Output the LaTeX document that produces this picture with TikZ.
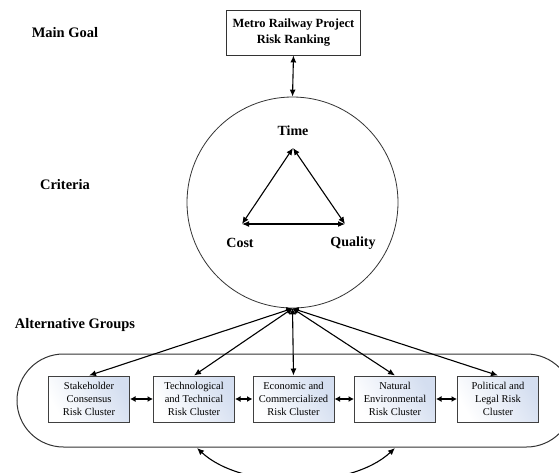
\documentclass[tikz,border=0pt]{standalone}
\usepackage{fontspec}
\setmainfont{Liberation Serif}
\usetikzlibrary{arrows.meta}
\begin{document}
\begin{tikzpicture}[x=1pt,y=-1pt,
  lvl/.style={font=\fontsize{14.5}{17}\selectfont\bfseries, anchor=center},
  crt/.style={font=\fontsize{14}{16}\selectfont\bfseries, anchor=center},
  goalbox/.style={draw=black!80, line width=0.9pt, minimum width=134pt, minimum height=45pt, inner sep=0pt, align=center, font=\fontsize{12.5}{16}\selectfont\bfseries},
  cluster/.style={draw=black!75, line width=1pt, minimum width=81pt, minimum height=46pt, inner sep=0pt, align=center,
     font=\fontsize{10.5}{12.8}\selectfont, left color=white, right color={rgb,255:red,212;green,222;blue,240}, shading angle=120},
  conn/.style={line width=1.1pt, black, {Latex[length=7pt,width=6pt]}-{Latex[length=7pt,width=6pt]}},
  oneway/.style={line width=1.1pt, black, {Latex[length=6pt,width=7pt]}-{Latex[length=7pt,width=6pt]}},
  small/.style={line width=1.1pt, black, {Latex[length=5.5pt,width=6pt]}-{Latex[length=5.5pt,width=6pt]}}
]
\useasboundingbox (0,0) rectangle (559,472);
\clip (0,0) rectangle (559,472);

% level labels
\node[lvl] (lg) at (65,33) {Main Goal};
\node[lvl] (lc) at (65,185) {Criteria};
\node[lvl] (la) at (75,325) {Alternative Groups};

% goal
\node[goalbox] (goal) at (293.5,32.5) {Metro Railway Project\\Risk Ranking};

% criteria circle
\node[draw=black!80, line width=0.8pt, circle, minimum size=211pt, inner sep=0pt] (crit) at (292.5,202.5) {};
\draw[conn] (goal.south) -- (crit.north);

% triangle
\coordinate (T) at (293,148);
\coordinate (C) at (242,224);
\coordinate (Q) at (345,224);
\node[crt] (tT) at (293,131) {Time};
\node[crt] (tC) at (240,243) {Cost};
\node[crt] (tQ) at (353,243) {Quality};
\draw[conn] (T) -- (C);
\draw[conn] (T) -- (Q);
\draw[conn] (C) -- (Q);

% container
\node[draw=black!80, line width=1pt, rectangle, rounded corners=46.5pt, minimum width=556pt, minimum height=93pt, inner sep=0pt] (altc) at (295,400.5) {};

% clusters
\node[cluster] (b1) at (89,399) {Stakeholder\\Consensus\\Risk Cluster};
\node[cluster] (b2) at (194,399) {Technological\\and Technical\\Risk Cluster};
\node[cluster] (b3) at (293.5,399) {Economic and\\Commercialized\\Risk Cluster};
\node[cluster] (b4) at (395,399) {Natural\\Environmental\\Risk Cluster};
\node[cluster] (b5) at (498,399) {Political and\\Legal Risk\\Cluster};

\draw[small] (b1) -- (b2);
\draw[small] (b2) -- (b3);
\draw[small] (b3) -- (b4);
\draw[small] (b4) -- (b5);

% criteria to clusters
\foreach \b in {b1,b2,b3,b4,b5}
  \draw[oneway] (crit.south) -- (\b.north);

% feedback loop
\coordinate (fa) at (197,448);
\coordinate (fb) at (395,448);
\draw[conn] (fa) .. controls (242,490) and (350,490) .. (fb);
\end{tikzpicture}
\end{document}
